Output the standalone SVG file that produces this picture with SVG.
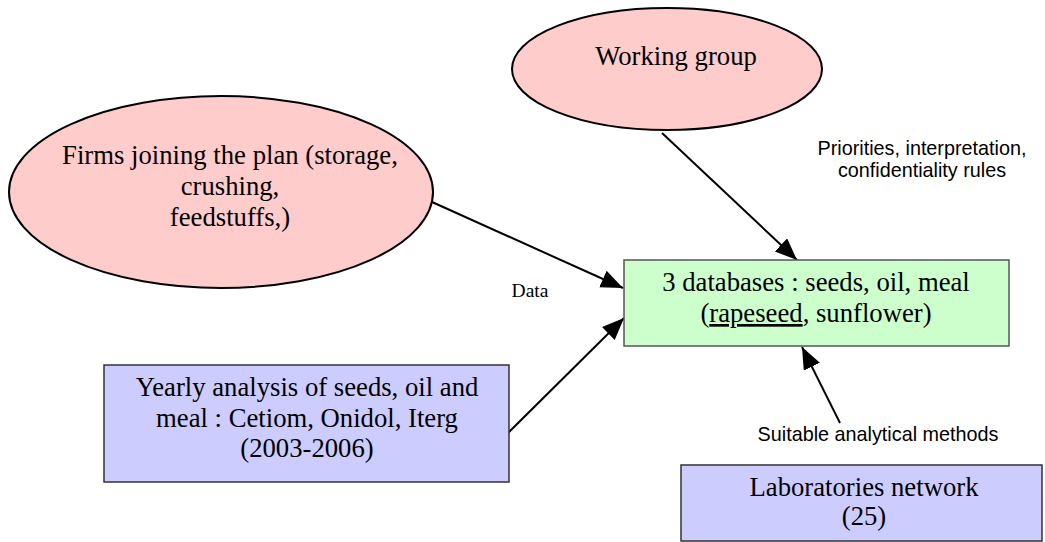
<svg xmlns="http://www.w3.org/2000/svg" width="1045" height="542" viewBox="0 0 1045 542">
  <style>
    .ell { fill: #FFCCCC; stroke: #000; stroke-width: 2; }
    .box-g { fill: #CCFFCC; stroke: #555; stroke-width: 1.5; }
    .box-b { fill: #CCCCFF; stroke: #333; stroke-width: 1.5; }
    .t { font-family: "Liberation Serif", "Times New Roman", serif; font-size: 26.7px; fill: #000; text-anchor: middle; }
    .lbl { font-family: "Liberation Sans", Arial, sans-serif; font-size: 19.8px; fill: #000; text-anchor: middle; }
    .lbl-s { font-family: "Liberation Serif", "Times New Roman", serif; font-size: 19.5px; fill: #000; text-anchor: middle; }
    .edge { stroke: #000; stroke-width: 2; fill: none; marker-end: url(#arrow); }
  </style>
  <defs>
    <marker id="arrow" markerUnits="userSpaceOnUse" markerWidth="24" markerHeight="20" refX="22" refY="9" orient="auto">
      <path d="M0,0 L22,9 L0,18 z" fill="#000"/>
    </marker>
  </defs>
  <rect width="1045" height="542" fill="#fff"/>

  <g id="connectors">
    <line class="edge" x1="432" y1="202" x2="623" y2="288"/>
    <line class="edge" x1="662" y1="133" x2="797" y2="260"/>
    <line class="edge" x1="508" y1="433" x2="624" y2="318"/>
    <line class="edge" x1="840" y1="423" x2="802" y2="347"/>
    <text class="lbl-s" x="530" y="297">Data</text>
    <text class="lbl" x="922" y="155">Priorities, interpretation,</text>
    <text class="lbl" x="922" y="177">confidentiality rules</text>
    <text class="lbl" x="878" y="441">Suitable analytical methods</text>
  </g>

  <g id="working-group">
    <ellipse class="ell" cx="667" cy="69" rx="155" ry="61"/>
    <text class="t" x="676" y="65">Working group</text>
  </g>

  <g id="firms">
    <ellipse class="ell" cx="221" cy="192" rx="212" ry="96"/>
    <text class="t" x="230" y="164">Firms joining the plan (storage,</text>
    <text class="t" x="230" y="195">crushing,</text>
    <text class="t" x="230" y="226">feedstuffs,)</text>
  </g>

  <g id="databases">
    <rect class="box-g" x="624" y="260" width="385" height="86"/>
    <text class="t" x="816" y="291">3 databases : seeds, oil, meal</text>
    <text class="t" x="816" y="322">(<tspan text-decoration="underline">rapeseed</tspan>, sunflower)</text>
  </g>

  <g id="yearly-analysis">
    <rect class="box-b" x="104" y="365" width="405" height="117"/>
    <text class="t" x="307" y="396">Yearly analysis of seeds, oil and</text>
    <text class="t" x="307" y="427">meal : Cetiom, Onidol, Iterg</text>
    <text class="t" x="307" y="457">(2003-2006)</text>
  </g>

  <g id="laboratories">
    <rect class="box-b" x="681" y="465" width="361" height="76"/>
    <text class="t" x="864" y="496">Laboratories network</text>
    <text class="t" x="864" y="525">(25)</text>
  </g>
</svg>
